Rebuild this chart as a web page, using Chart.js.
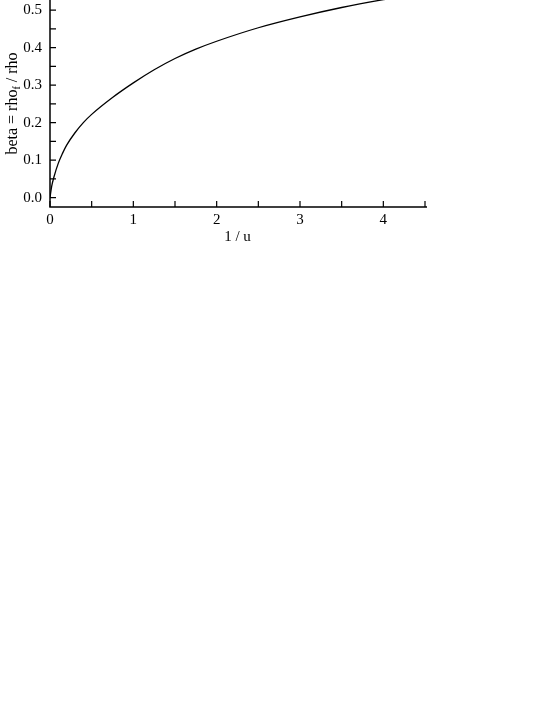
<!DOCTYPE html>
<html>
<head>
<meta charset="utf-8">
<script src="https://cdn.jsdelivr.net/npm/chart.js@4"></script>
<style>
  html, body { margin: 0; padding: 0; background: #fff; }
  #wrap { position: absolute; left: 0; top: 0; width: 545px; height: 250px; }
</style>
</head>
<body>
<div id="wrap"><canvas id="chart" width="545" height="250"></canvas></div>
<script>
// values
const invU = [0, 0.02, 0.05, 0.1, 0.15, 0.2, 0.3, 0.4, 0.5, 0.75, 1.0, 1.25, 1.5, 1.75, 2.0, 2.5, 3.0, 3.5, 4.0, 4.5];
const beta = [0, 0.03, 0.057, 0.092, 0.118, 0.14, 0.173, 0.2, 0.222, 0.267, 0.306, 0.341, 0.371, 0.396, 0.417, 0.453, 0.482, 0.507, 0.528, 0.546];

const xTicks = [0, 0.5, 1, 1.5, 2, 2.5, 3, 3.5, 4, 4.5];
const yTicks = [0, 0.05, 0.1, 0.15, 0.2, 0.25, 0.3, 0.35, 0.4, 0.45, 0.5];

const serif = 'Liberation Serif';

// draws the axis lines, the inward tick marks and the y title with its subscript
const axesPlugin = {
  id: 'axes',
  afterDraw(chart) {
    const ctx = chart.ctx;
    const xs = chart.scales.x, ys = chart.scales.y;
    const left = chart.chartArea.left, bottom = chart.chartArea.bottom;
    const top = chart.chartArea.top, right = chart.chartArea.right;
    ctx.save();
    ctx.strokeStyle = '#000';
    ctx.lineWidth = 1.5;
    ctx.beginPath();
    ctx.moveTo(left, top);
    ctx.lineTo(left, bottom);
    ctx.lineTo(right + 2, bottom);
    ctx.stroke();
    ctx.lineWidth = 1.2;
    ctx.beginPath();
    xs.ticks.forEach(t => {
      const px = xs.getPixelForValue(t.value);
      ctx.moveTo(px, bottom);
      ctx.lineTo(px, bottom - 6);
    });
    ys.ticks.forEach(t => {
      const py = ys.getPixelForValue(t.value);
      ctx.moveTo(left, py);
      ctx.lineTo(left + 6, py);
    });
    ctx.stroke();

    // y axis title: beta = rho_f / rho
    const cy = (top + bottom) / 2;
    ctx.translate(13, cy);
    ctx.rotate(-Math.PI / 2);
    ctx.fillStyle = '#000';
    ctx.textBaseline = 'middle';
    const big = '16px "' + serif + '"', small = '10px "' + serif + '"';
    const p1 = 'beta = rho', p2 = 'f', p3 = ' / rho';
    ctx.font = big;
    const w1 = ctx.measureText(p1).width, w3 = ctx.measureText(p3).width;
    ctx.font = small;
    const w2 = ctx.measureText(p2).width;
    let x0 = -(w1 + w2 + w3) / 2;
    ctx.font = big;
    ctx.fillText(p1, x0, 0);
    ctx.font = small;
    ctx.fillText(p2, x0 + w1, 4);
    ctx.font = big;
    ctx.fillText(p3, x0 + w1 + w2, 0);
    ctx.restore();
  }
};

new Chart(document.getElementById('chart'), {
  type: 'line',
  data: {
    datasets: [{
      data: invU.map((v, i) => ({x: v, y: beta[i]})),
      borderColor: '#000',
      borderWidth: 1.3,
      pointRadius: 0,
      fill: false,
      cubicInterpolationMode: 'monotone'
    }]
  },
  options: {
    responsive: false,
    animation: false,
    devicePixelRatio: 1,
    layout: {padding: {left: 0, top: 0, right: 120, bottom: 0}},
    plugins: {legend: {display: false}, tooltip: {enabled: false}},
    scales: {
      x: {
        type: 'linear',
        min: 0,
        max: 4.5,
        afterBuildTicks: s => { s.ticks = xTicks.map(v => ({value: v})); },
        afterFit: s => { s.height = 43; s.paddingLeft = 0; s.paddingRight = 0; },
        grid: {display: false, drawTicks: false},
        border: {display: false},
        ticks: {
          autoSkip: false,
          maxRotation: 0,
          padding: 4,
          color: '#000',
          font: {family: serif, size: 15},
          callback: v => Number.isInteger(v) ? String(v) : ''
        },
        title: {display: true, text: '1 / u', color: '#000', font: {family: serif, size: 15}, padding: 4}
      },
      y: {
        type: 'linear',
        min: -0.025,
        max: 0.527,
        afterBuildTicks: s => { s.ticks = yTicks.map(v => ({value: v})); },
        afterFit: s => { s.width = 50; s.paddingTop = 0; s.paddingBottom = 0; },
        grid: {display: false, drawTicks: false},
        border: {display: false},
        ticks: {
          autoSkip: false,
          padding: 8,
          color: '#000',
          font: {family: serif, size: 15},
          callback: v => Math.abs(v * 10 - Math.round(v * 10)) < 1e-6 ? v.toFixed(1) : ''
        }
      }
    }
  },
  plugins: [axesPlugin]
});
</script>
</body>
</html>
